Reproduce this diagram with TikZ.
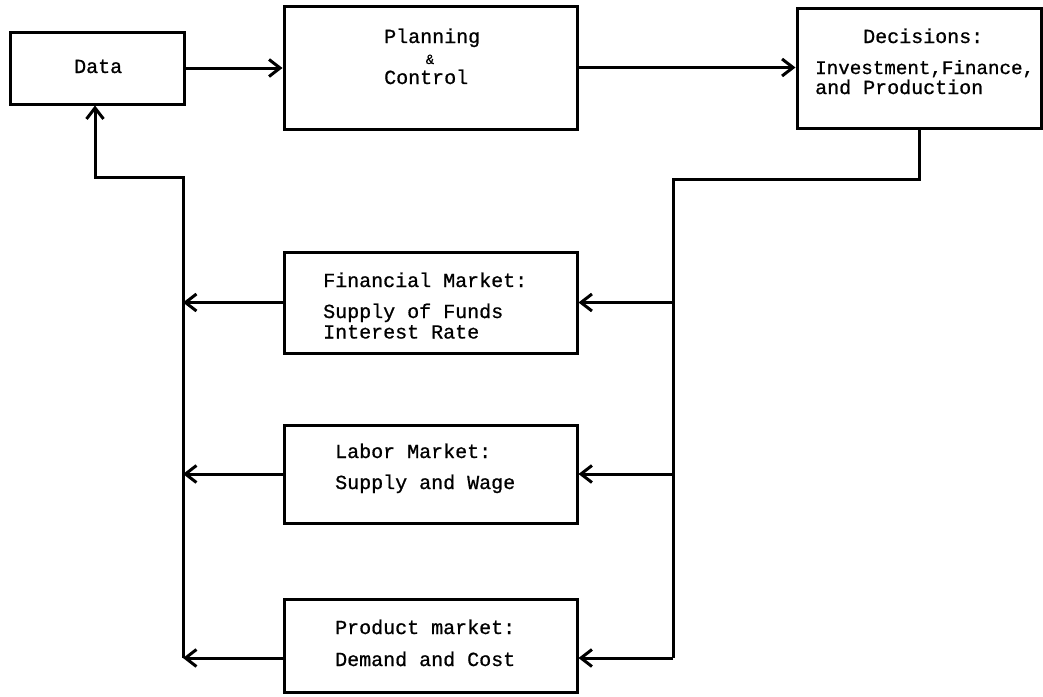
\documentclass[tikz,border=0pt]{standalone}
\usepackage{fontspec}
\newfontfamily\tw[FakeBold=0.8]{Liberation Mono}
\usetikzlibrary{arrows.meta}
\begin{document}
\begin{tikzpicture}[x=1pt,y=-1pt,
  box/.style={draw,line width=3pt,inner sep=0pt,rectangle},
  txt/.style={anchor=base west,inner sep=0pt,font=\tw\fontsize{20}{20}\selectfont},
  amp/.style={anchor=base,inner sep=0pt,font=\tw\fontsize{14}{14}\selectfont},
  line/.style={line width=3pt},
  arr/.style={line width=3pt,-{Straight Barb[length=11pt,width=17pt,line width=3pt]}}]
\useasboundingbox (0,0) rectangle (1043,696);
% boxes
\node[box,minimum width=174pt,minimum height=72pt] (data) at (97,68) {};
\node[box,minimum width=293pt,minimum height=123pt] (plan) at (430.5,67.5) {};
\node[box,minimum width=244pt,minimum height=120pt] (dec) at (919,68) {};
\node[box,minimum width=293pt,minimum height=101pt] (fin) at (430.5,302.5) {};
\node[box,minimum width=293pt,minimum height=98pt] (lab) at (430.5,474) {};
\node[box,minimum width=293pt,minimum height=93pt] (prod) at (430.5,646) {};
% texts
\node[txt] (tdata) at (74,73) {Data};
\node[txt] (tplan1) at (384,43) {Planning};
\node[amp] (tplan2) at (430,64) {\&};
\node[txt] (tplan3) at (384,84) {Control};
\node[txt] (tdec1) at (863,43) {Decisions:};
\node[txt,font=\tw\fontsize{19.2}{19.2}\selectfont] (tdec2) at (815,74) {Investment,Finance,};
\node[txt] (tdec3) at (815,94) {and Production};
\node[txt] (tfin1) at (323,287) {Financial Market:};
\node[txt] (tfin2) at (323,318) {Supply of Funds};
\node[txt] (tfin3) at (323,338.5) {Interest Rate};
\node[txt] (tlab1) at (335,458) {Labor Market:};
\node[txt] (tlab2) at (335,489) {Supply and Wage};
\node[txt] (tprod1) at (335,634) {Product market:};
\node[txt] (tprod2) at (335,666) {Demand and Cost};
% bus coordinates
\coordinate (rt) at (673,179);
\coordinate (rb) at (673,658);
\coordinate (lt) at (183,177);
\coordinate (lb) at (183,658);
\coordinate (dl) at (95,177);
% top row
\draw[arr] (data.east) -- (data.east -| plan.west);
\draw[arr] (plan.east) -- (plan.east -| dec.west);
% right bus
\draw[line] (dec.south) |- (rt) -- (rb);
\draw[arr] (rt |- fin.east) -- (fin.east);
\draw[arr] (rt |- lab.east) -- (lab.east);
\draw[arr] (rb) -- (rb -| prod.east);
% left bus
\draw[arr] (fin.west) -- (fin.west -| lt);
\draw[arr] (lab.west) -- (lab.west -| lt);
\draw[arr] (lb -| prod.west) -- (lb);
\draw[arr] (lb) -- (lt) -- (dl) -- (dl |- data.south);
\end{tikzpicture}
\end{document}
